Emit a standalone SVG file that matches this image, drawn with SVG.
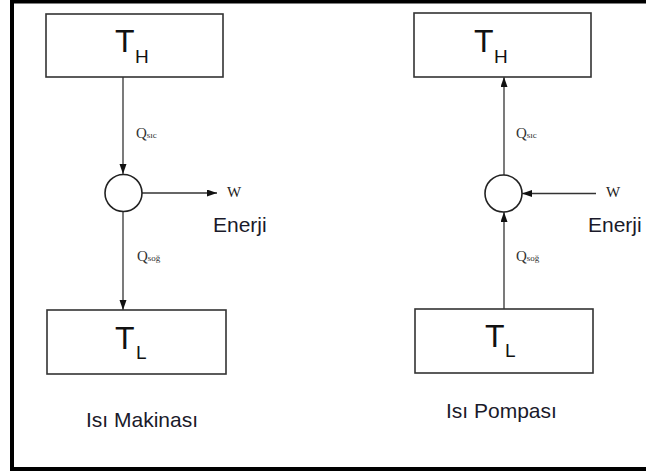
<svg xmlns="http://www.w3.org/2000/svg" width="646" height="473" viewBox="0 0 646 473">
<style>
.box{fill:#fff;stroke:#333;stroke-width:1.6}
.circ{fill:#fff;stroke:#222;stroke-width:1.6}
.ln{fill:none;stroke:#333;stroke-width:1.3}
.big{font-family:"Liberation Sans",Arial,sans-serif;font-size:32px;fill:#111}
.sub{font-family:"Liberation Sans",Arial,sans-serif;font-size:19px;fill:#111}
.lbl{font-family:"Liberation Sans",Arial,sans-serif;font-size:21px;fill:#1a1a2a}
.q{font-family:"Liberation Serif","Times New Roman",serif;font-size:15px;fill:#333}
.qs{font-size:9px}
.w{font-family:"Liberation Serif","Times New Roman",serif;font-size:15px;fill:#222}
</style>
<defs>
<marker id="ah" markerUnits="userSpaceOnUse" markerWidth="11" markerHeight="8" refX="10" refY="3.5" orient="auto">
<path d="M0,0 L10,3.5 L0,7 z" fill="#111"/>
</marker>
</defs>
<rect x="0" y="0" width="646" height="473" fill="#fff"/>
<g id="frame">
<path d="M650,1.5 H12 V469 H650" fill="none" stroke="#000" stroke-width="4"/>
</g>
<g id="connectors">
<line class="ln" x1="123" y1="77" x2="123" y2="174" marker-end="url(#ah)"/>
<line class="ln" x1="142" y1="193" x2="217" y2="193" marker-end="url(#ah)"/>
<line class="ln" x1="123" y1="212" x2="123" y2="310" marker-end="url(#ah)"/>
<line class="ln" x1="504" y1="175" x2="504" y2="77" marker-end="url(#ah)"/>
<line class="ln" x1="504" y1="309" x2="504" y2="212" marker-end="url(#ah)"/>
<line class="ln" x1="596" y1="193.5" x2="522" y2="193.5" marker-end="url(#ah)"/>
</g>
<g id="th-left">
<rect class="box" x="46" y="14" width="177" height="63"/>
<text class="big" x="115" y="52">T</text><text class="sub" x="135" y="63">H</text>
</g>
<g id="tl-left">
<rect class="box" x="47" y="310" width="179" height="64"/>
<text class="big" x="115" y="349">T</text><text class="sub" x="136" y="359">L</text>
</g>
<g id="engine">
<circle class="circ" cx="123.5" cy="193" r="18.5"/>
</g>
<g id="th-right">
<rect class="box" x="414" y="13" width="177" height="64"/>
<text class="big" x="474" y="52">T</text><text class="sub" x="494" y="63">H</text>
</g>
<g id="tl-right">
<rect class="box" x="415" y="309" width="178" height="64"/>
<text class="big" x="485" y="347">T</text><text class="sub" x="505" y="357">L</text>
</g>
<g id="pump">
<circle class="circ" cx="503.5" cy="193.5" r="18.5"/>
</g>
<g id="labels">
<text class="q" x="136" y="138">Q<tspan class="qs">sıc</tspan></text>
<text class="q" x="137" y="261">Q<tspan class="qs">soğ</tspan></text>
<text class="q" x="516" y="138">Q<tspan class="qs">sıc</tspan></text>
<text class="q" x="516" y="261">Q<tspan class="qs">soğ</tspan></text>
<text class="w" x="227" y="197">W</text>
<text class="w" x="606" y="197">W</text>
<text class="lbl" x="213" y="232">Enerji</text>
<text class="lbl" x="588" y="232">Enerji</text>
<text class="lbl" x="86" y="427">Isı Makinası</text>
<text class="lbl" x="446" y="418">Isı Pompası</text>
</g>
</svg>
